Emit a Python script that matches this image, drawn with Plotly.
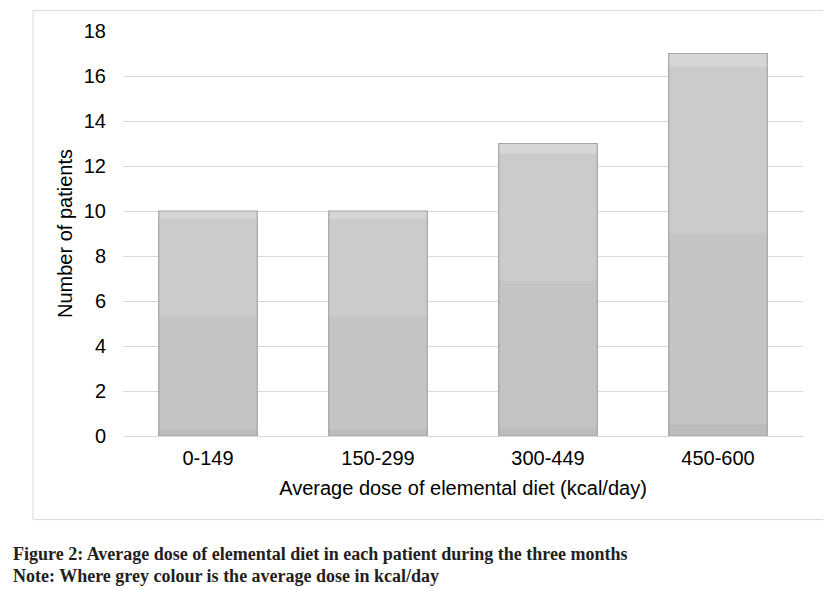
import plotly.graph_objects as go

categories = ["0-149", "150-299", "300-449", "450-600"]
patients = [10, 10, 13, 17]
y_ticks = [0, 2, 4, 6, 8, 10, 12, 14, 16, 18]

# gradient-like banding of the bar fill (fraction of bar height, colour)
bands = [(1.0, "#d6d6d6"), (0.965, "#cbcbcb"), (0.53, "#c4c4c4"), (0.03, "#bcbcbc")]

fig = go.Figure()
for frac, col in bands:
    fig.add_trace(go.Bar(
        x=categories, y=[v * frac for v in patients],
        marker=dict(color=col, line=dict(width=0)),
        hoverinfo="skip", showlegend=False))
fig.add_trace(go.Bar(
    x=categories, y=patients,
    marker=dict(color="rgba(0,0,0,0)", line=dict(color="#a6a6a6", width=1.2)),
    showlegend=False))

OFF = 8  # page body margin
W, H = 831 - OFF, 590 - OFF
L, T = 123 - OFF, 29 - OFF
R = W - (803 - OFF)
B = H - (436 - OFF)
pw, ph = W - L - R, H - T - B

def px(x):
    return (x - OFF - L) / pw

def py(y):
    return (H - B - (y - OFF)) / ph

fig.update_layout(
    width=W, height=H,
    margin=dict(l=L, r=R, t=T, b=B),
    paper_bgcolor="white", plot_bgcolor="white",
    barmode="overlay", bargap=0.42,
    font=dict(family="Liberation Sans, Arial, sans-serif", size=20, color="#000000"),
    xaxis=dict(
        title=dict(text="Average dose of elemental diet (kcal/day)", standoff=12,
                   font=dict(size=20)),
        showgrid=False, zeroline=False, showline=False, ticks="",
        tickfont=dict(size=20), ticklabelstandoff=8),
    yaxis=dict(
        title=dict(text="Number of patients", standoff=5, font=dict(size=20)),
        range=[0, 18], tickvals=y_ticks, showgrid=True, gridcolor="#d9d9d9",
        gridwidth=1, zeroline=True, zerolinecolor="#d9d9d9", zerolinewidth=1,
        showline=False, ticks="", ticklen=0, tickfont=dict(size=20),
        ticklabelstandoff=16),
    shapes=[dict(type="rect", xref="paper", yref="paper",
                 x0=px(33), x1=px(827), y0=py(520), y1=py(8.5),
                 line=dict(color="#d9d9d9", width=1), layer="below")],
    annotations=[
        dict(xref="paper", yref="paper", x=px(11), y=py(555), xanchor="left",
             yanchor="middle", showarrow=False, align="left",
             text="<b>Figure 2: Average dose of elemental diet in each patient during the three months</b>",
             font=dict(family="Liberation Serif, Times New Roman, serif", size=18, color="#231f20")),
        dict(xref="paper", yref="paper", x=px(11), y=py(577), xanchor="left",
             yanchor="middle", showarrow=False, align="left",
             text="<b>Note: Where grey colour is the average dose in kcal/day</b>",
             font=dict(family="Liberation Serif, Times New Roman, serif", size=18, color="#231f20")),
    ],
)

fig.write_html("out.html")
